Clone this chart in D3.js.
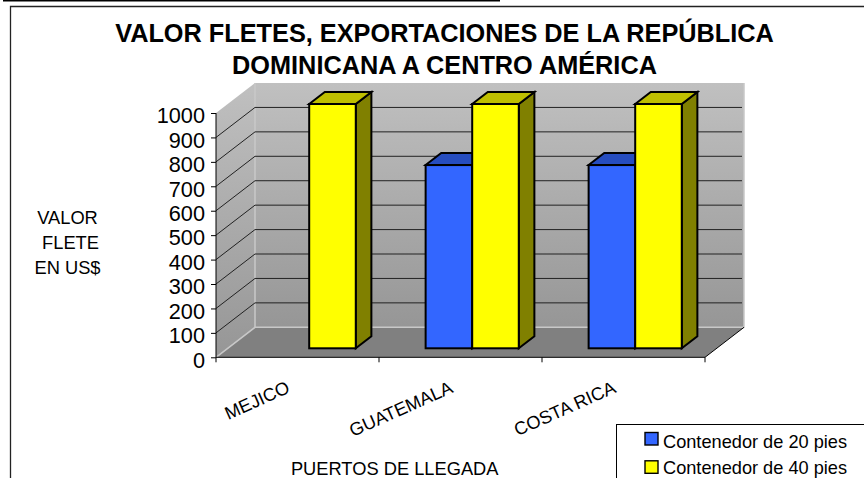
<!DOCTYPE html>
<html>
<head>
<meta charset="utf-8">
<script src="https://cdn.jsdelivr.net/npm/d3@7"></script>
<style>
  html, body { margin: 0; padding: 0; background: #fff; overflow: hidden; }
  text { font-family: "Liberation Sans", Arial, sans-serif; fill: #000; }
</style>
</head>
<body>
<svg id="chart"></svg>
<script>
var width = 864;
var height = 478;

var categories = ["MEJICO", "GUATEMALA", "COSTA RICA"];
var seriesNames = ["Contenedor de 20 pies", "Contenedor de 40 pies"];
var values20 = [null, 750, 750];
var values40 = [1000, 1000, 1000];
var yTicks = [0, 100, 200, 300, 400, 500, 600, 700, 800, 900, 1000];
var titleLines = ["VALOR FLETES, EXPORTACIONES DE LA REPÚBLICA", "DOMINICANA A CENTRO AMÉRICA"];
var yTitleLines = ["VALOR", "FLETE", "EN US$"];
var xTitle = "PUERTOS DE LLEGADA";

var fills = ["#3366ff", "#ffff00"];
var tops = ["#264dbf", "#bfbf00"];
var sides = ["#1a3380", "#808000"];

// depth of the fake 3d box
var depthX = 39;
var depthY = -30;
var barFront = 0.3;
var barBack = 0.7;

var x = d3.scaleBand().domain(categories).range([216, 705]);
var y = d3.scaleLinear().domain([0, 1000]).range([357.3, 113]);
var xInner = d3.scaleBand().domain(d3.range(seriesNames.length))
    .range([0, x.bandwidth()]).paddingOuter(0.75).paddingInner(0);
// paddingOuter is a share of the step, so gap on each side = .75 bar
var xEdges = categories.map(function (c) { return x(c); }).concat([x.range()[1]]);

var svg = d3.select("#chart").attr("width", width).attr("height", height);

var defs = svg.append("defs");
function wallGradient(id, top, bottom) {
    var g = defs.append("linearGradient").attr("id", id)
        .attr("x1", 0).attr("y1", 0).attr("x2", 0).attr("y2", 1);
    g.append("stop").attr("offset", "0%").attr("stop-color", top);
    g.append("stop").attr("offset", "100%").attr("stop-color", bottom);
}
wallGradient("wall", "#c0c0c0", "#969696");
wallGradient("sideWall", "#c0c0c0", "#969696");

function pts(list) {
    return list.map(function (p) { return p[0] + "," + p[1]; }).join(" ");
}

// page rule and frame
svg.append("line").attr("x1", 3).attr("x2", 500).attr("y1", 0.75).attr("y2", 0.75)
    .attr("stroke", "#000").attr("stroke-width", 1.5);
svg.append("path").attr("d", "M864,6.5H10.5V478").attr("fill", "none")
    .attr("stroke", "#222").attr("stroke-width", 1.3);

var x0 = x.range()[0], x1 = x.range()[1];

// walls and floor
svg.append("polygon").attr("fill", "url(#wall)")
    .attr("points", pts([[x0 + depthX, y(1000) + depthY], [x1 + depthX, y(1000) + depthY], [x1 + depthX, y(0) + depthY], [x0 + depthX, y(0) + depthY]]));
svg.append("polygon").attr("fill", "url(#sideWall)")
    .attr("points", pts([[x0, y(1000)], [x0 + depthX, y(1000) + depthY], [x0 + depthX, y(0) + depthY], [x0, y(0)]]));
svg.append("polygon").attr("fill", "#808080")
    .attr("points", pts([[x0, y(0)], [x0 + depthX, y(0) + depthY], [x1 + depthX, y(0) + depthY], [x1, y(0)]]));

// light edges of the box
svg.append("polyline").attr("fill", "none").attr("stroke", "#c8c8c8").attr("stroke-width", 1.5)
    .attr("points", pts([[x0, y(0)], [x0 + depthX, y(0) + depthY], [x1 + depthX, y(0) + depthY], [x1 + depthX, y(1000) + depthY]]));
svg.append("line").attr("stroke", "#c8c8c8").attr("stroke-width", 1.5)
    .attr("x1", x0 + depthX).attr("x2", x0 + depthX).attr("y1", y(1000) + depthY).attr("y2", y(0) + depthY);

// grid lines, back wall and side wall
var gridVals = yTicks.slice(1, -1);
svg.append("g").selectAll("polyline").data(gridVals).enter().append("polyline")
    .attr("fill", "none").attr("stroke", "#222").attr("stroke-width", 1)
    .attr("points", function (d) {
        return pts([[x0, y(d)], [x0 + depthX, y(d) + depthY], [x1 + depthX - 2, y(d) + depthY]]);
    });

// bars
var barData = [];
categories.forEach(function (c, i) {
    [values20[i], values40[i]].forEach(function (v, s) {
        if (v !== null) barData.push({ cat: c, s: s, v: v });
    });
});

var bars = svg.append("g").selectAll("g").data(barData).enter().append("g")
    .attr("stroke", "#000").attr("stroke-width", 2).attr("stroke-linejoin", "miter");

function bx(d) { return x(d.cat) + xInner(d.s) + depthX * barFront; }
function by(v) { return y(v) + depthY * barFront; }
var dx = depthX * (barBack - barFront);
var dy = depthY * (barBack - barFront);

bars.append("polygon").attr("fill", function (d) { return sides[d.s]; })
    .attr("points", function (d) {
        var r = bx(d) + xInner.bandwidth();
        return pts([[r, by(d.v)], [r + dx, by(d.v) + dy], [r + dx, by(0) + dy], [r, by(0)]]);
    });
bars.append("polygon").attr("fill", function (d) { return tops[d.s]; })
    .attr("points", function (d) {
        var l = bx(d), r = l + xInner.bandwidth();
        return pts([[l, by(d.v)], [l + dx, by(d.v) + dy], [r + dx, by(d.v) + dy], [r, by(d.v)]]);
    });
bars.append("rect").attr("fill", function (d) { return fills[d.s]; })
    .attr("x", bx)
    .attr("y", function (d) { return by(d.v); })
    .attr("width", xInner.bandwidth())
    .attr("height", function (d) { return by(0) - by(d.v); });

// axes
var yAxis = svg.append("g").attr("transform", "translate(" + x0 + ",0)")
    .call(d3.axisLeft(y).tickValues(yTicks).tickFormat(d3.format("d")).tickSize(5).tickPadding(6));
yAxis.selectAll("text").style("font-size", "21.7px").attr("dy", "0.45em");
yAxis.selectAll("line").attr("stroke", "#000");
yAxis.select(".domain").attr("stroke", "#000").attr("d", "M0," + y(0) + "V" + y(1000));

svg.append("line").attr("x1", x0).attr("x2", x1).attr("y1", y(0)).attr("y2", y(0)).attr("stroke", "#000");
svg.append("line").attr("x1", x1).attr("x2", x1 + depthX).attr("y1", y(0)).attr("y2", y(0) + depthY).attr("stroke", "#000");
svg.append("g").selectAll("line").data(xEdges).enter().append("line")
    .attr("x1", function (d) { return d; }).attr("x2", function (d) { return d; })
    .attr("y1", y(0)).attr("y2", y(0) + 5).attr("stroke", "#000");

svg.append("g").selectAll("text").data(categories).enter().append("text")
    .attr("text-anchor", "end").style("font-size", "18.2px")
    .attr("transform", function (d) {
        return "translate(" + (x(d) + x.bandwidth() / 2 - 6.5) + ",392) rotate(-24)";
    })
    .text(function (d) { return d; });

// titles
svg.append("g").selectAll("text").data(titleLines).enter().append("text")
    .attr("x", 444.5).attr("y", function (d, i) { return 41.5 + i * 32.5; })
    .attr("text-anchor", "middle").style("font-size", "25.3px").style("font-weight", "bold")
    .text(function (d) { return d; });

svg.append("g").selectAll("text").data(yTitleLines).enter().append("text")
    .attr("x", function (d, i) { return i === 1 ? 70.5 : 67.5; })
    .attr("y", function (d, i) { return 224 + i * 25; })
    .attr("text-anchor", "middle").style("font-size", "18.3px")
    .text(function (d) { return d; });

svg.append("text").attr("x", 394.7).attr("y", 475).attr("text-anchor", "middle")
    .style("font-size", "18.3px").text(xTitle);

// legend box runs off the page like the source
svg.append("rect").attr("x", 616.5).attr("y", 424.5).attr("width", 300).attr("height", 100)
    .attr("fill", "#fff").attr("stroke", "#000");
var legend = svg.append("g").selectAll("g").data(seriesNames).enter().append("g")
    .attr("transform", function (d, i) { return "translate(645," + (432.5 + i * 28.3) + ")"; });
legend.append("rect").attr("width", 13).attr("height", 12.5)
    .attr("fill", function (d, i) { return fills[i]; }).attr("stroke", "#000").attr("stroke-width", 1.4);
// second row sits a bit higher so the descenders stay on the page
legend.append("text").attr("x", 18).attr("y", function (d, i) { return i === 0 ? 15 : 13; })
    .style("font-size", "18.2px")
    .text(function (d) { return d; });
</script>
</body>
</html>
